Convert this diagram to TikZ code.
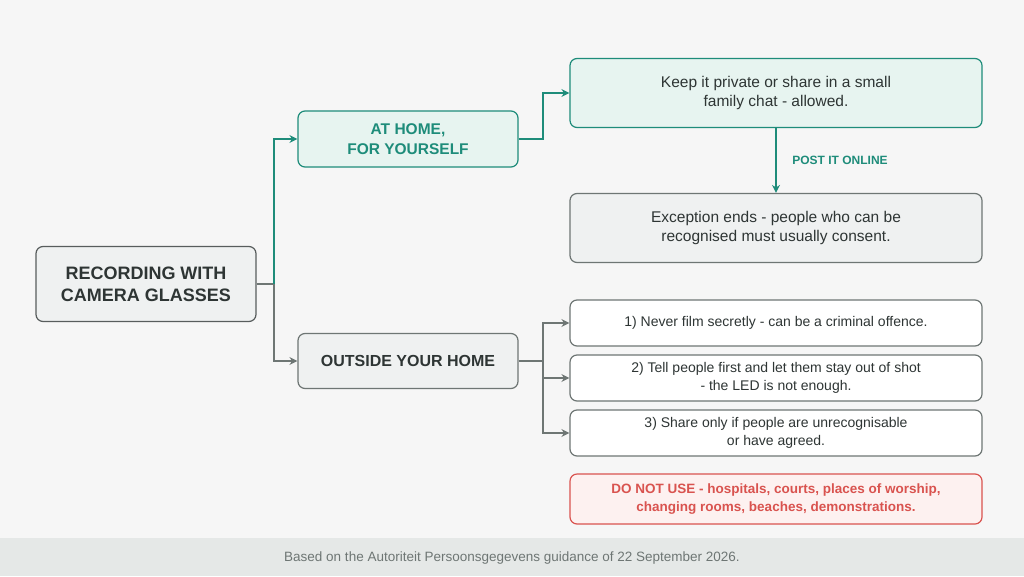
\documentclass[tikz,border=0pt]{standalone}
\usepackage{fontspec}
\setmainfont{Liberation Sans}
\usetikzlibrary{arrows.meta}
\definecolor{bg}{HTML}{F6F6F6}
\definecolor{foot}{HTML}{E5E8E7}
\definecolor{teal}{HTML}{1E8C7A}
\definecolor{mint}{HTML}{E7F4F0}
\definecolor{grayf}{HTML}{EFF1F1}
\definecolor{grayb}{HTML}{6E7674}
\definecolor{dark}{HTML}{2E3534}
\definecolor{redb}{HTML}{D9534F}
\definecolor{redf}{HTML}{FDF1F0}
\begin{document}
\begin{tikzpicture}[x=1pt,y=-1pt,
 box/.style={draw,rounded corners=7pt,line width=1.2pt,align=center,inner sep=0pt},
 tealbox/.style={box,draw=teal,fill=mint},
 graybox/.style={box,draw=grayb,fill=grayf},
 whitebox/.style={box,draw=grayb,fill=white},
 tarr/.style={draw=teal,line width=2pt,-{Stealth[length=8pt,width=8pt]}},
 garr/.style={draw=grayb,line width=2pt,-{Stealth[length=8pt,width=8pt]}},
 txt/.style={font=\fontsize{15.5}{19}\selectfont,text=dark},
 stxt/.style={font=\fontsize{14}{17.5}\selectfont,text=dark}]
\fill[bg] (0,0) rectangle (1024,576);
\fill[foot] (0,538) rectangle (1024,576);
\node[text=grayb,font=\fontsize{13.5}{16}\selectfont] (foot) at (512,558) {Based on the Autoriteit Persoonsgegevens guidance of 22 September 2026.};
\node[graybox,draw=dark!80,minimum width=220pt,minimum height=75pt,font=\bfseries\fontsize{18}{22}\selectfont,text=dark] (root) at (146,284) {RECORDING WITH\\CAMERA GLASSES};
\node[tealbox,minimum width=220pt,minimum height=56pt,font=\bfseries\fontsize{15.5}{20}\selectfont,text=teal] (home) at (408,139) {AT HOME,\\FOR YOURSELF};
\node[graybox,minimum width=220pt,minimum height=55pt,font=\bfseries\fontsize{16}{20}\selectfont,text=dark] (out) at (408,361) {OUTSIDE YOUR HOME};
\node[tealbox,minimum width=412pt,minimum height=69pt,txt] (keep) at (776,93) {Keep it private or share in a small\\family chat - allowed.};
\node[graybox,minimum width=412pt,minimum height=69pt,txt] (exc) at (776,228) {Exception ends - people who can be\\recognised must usually consent.};
\node[whitebox,minimum width=412pt,minimum height=46pt,stxt] (r1) at (776,323) {1) Never film secretly - can be a criminal offence.};
\node[whitebox,minimum width=412pt,minimum height=46pt,stxt] (r2) at (776,378) {2) Tell people first and let them stay out of shot\\- the LED is not enough.};
\node[whitebox,minimum width=412pt,minimum height=46pt,stxt] (r3) at (776,433) {3) Share only if people are unrecognisable\\or have agreed.};
\node[box,draw=redb,fill=redf,minimum width=412pt,minimum height=50pt,font=\bfseries\fontsize{13.5}{18.5}\selectfont,text=redb] (dnu) at (776,499) {DO NOT USE - hospitals, courts, places of worship,\\changing rooms, beaches, demonstrations.};
\coordinate (j1) at (274,284);
\draw[draw=grayb,line width=2pt] (root.east) -- (j1);
\draw[tarr] (j1) -- (274,139) -- (home.west);
\draw[garr] (j1) -- (274,361) -- (out.west);
\draw[tarr] (home.east) -- (543,139) -- (543,93) -- (keep.west);
\draw[tarr] (keep.south) -- node[right=12pt,font=\bfseries\fontsize{12}{14}\selectfont,text=teal]{POST IT ONLINE} (exc.north);
\draw[draw=grayb,line width=2pt] (out.east) -- (543,361);
\draw[garr] (543,361) -- (543,323) -- (r1.west);
\draw[garr] (543,361) -- (543,378) -- (r2.west);
\draw[garr] (543,361) -- (543,433) -- (r3.west);
\end{tikzpicture}
\end{document}
